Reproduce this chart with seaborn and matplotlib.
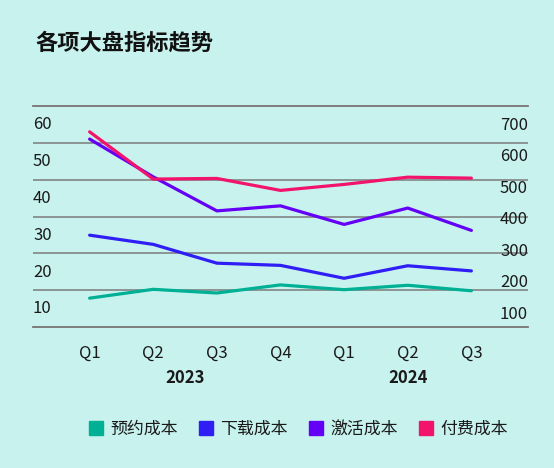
import numpy as np
import pandas as pd
import matplotlib
matplotlib.use("Agg")
import matplotlib.pyplot as plt
from matplotlib.lines import Line2D
import seaborn as sns

sns.set_theme(style="white")
plt.rcParams['font.family'] = ['Noto Sans CJK SC', 'DejaVu Sans']

# ---- data ----
title = "各项大盘指标趋势"
quarters = ["Q1", "Q2", "Q3", "Q4", "Q1", "Q2", "Q3"]
years = ["2023", "2023", "2023", "2023", "2024", "2024", "2024"]
series_names = ["预约成本", "下载成本", "激活成本", "付费成本"]
yuyue = [12.4, 14.8, 13.8, 16.0, 14.7, 15.9, 14.4]      # left axis
xiazai = [29.5, 27.0, 21.9, 21.3, 17.8, 21.2, 19.8]     # left axis
jihuo = [650, 530, 422, 438, 379, 431, 360]             # right axis
fufei = [673, 523, 525, 487, 506, 529, 526]             # right axis
left_ticks = [10, 20, 30, 40, 50, 60]
right_ticks = [100, 200, 300, 400, 500, 600, 700]
colors = ["#00b095", "#2f1ff5", "#6400f5", "#f2136c"]

bg = "#c8f2ee"
grid_c = "#7a7a7a"
txt_c = "#1a1a1a"

pos = np.arange(len(quarters))
df = pd.DataFrame({"pos": pos, "q": quarters, "year": years,
                   series_names[0]: yuyue, series_names[1]: xiazai,
                   series_names[2]: jihuo, series_names[3]: fufei})

fig = plt.figure(figsize=(5.54, 4.68), dpi=100, facecolor=bg)
ax = fig.add_axes([33/554, 1-327/468, 495/554, 221/468])
ax.set_facecolor(bg)
ax2 = ax.twinx()
ax2.set_facecolor("none")

lw = 2.3
sns.lineplot(data=df, x="pos", y=series_names[0], ax=ax, color=colors[0], linewidth=lw, zorder=3)
sns.lineplot(data=df, x="pos", y=series_names[1], ax=ax, color=colors[1], linewidth=lw, zorder=3)
sns.lineplot(data=df, x="pos", y=series_names[2], ax=ax2, color=colors[2], linewidth=lw, zorder=3)
sns.lineplot(data=df, x="pos", y=series_names[3], ax=ax2, color=colors[3], linewidth=lw, zorder=3)

# x axis
ax.set_xlim(-0.89, len(quarters) - 1 + 0.89)
ax.set_xticks(pos)
ax.set_xticklabels(quarters, fontsize=12, color=txt_c)
ax.tick_params(axis="x", length=0, pad=13)
ax.set_xlabel("")

# year group labels
trans = matplotlib.transforms.blended_transform_factory(ax.transData, ax.transAxes)
for yr in dict.fromkeys(years):
    xs = df.loc[df["year"] == yr, "pos"].mean()
    ax.text(xs, -0.231, yr, transform=trans, ha="center", va="center",
            fontsize=12, fontweight="bold", color=txt_c)

# left axis: labels sit between grid lines as in the reference
ax.set_ylim(4.57, 64.57)
ax.set_yticks(left_ticks)
ax.set_yticklabels([str(t) for t in left_ticks], fontsize=12, color=txt_c)
ax.tick_params(axis="y", length=0, pad=0)
for lbl in ax.get_yticklabels():
    lbl.set_horizontalalignment("left")
ax.set_yticks([14.57, 24.57, 34.57, 44.57, 54.57], minor=True)
ax.tick_params(axis="y", which="minor", length=0)
ax.yaxis.grid(True, which="minor", color=grid_c, linewidth=1.1)
ax.yaxis.grid(False, which="major")
ax.xaxis.grid(False)
ax.set_ylabel("")

# right axis
ax2.set_ylim(53.3, 755.0)
ax2.set_yticks(right_ticks)
ax2.set_yticklabels([str(t) for t in right_ticks], fontsize=12, color=txt_c)
ax2.tick_params(axis="y", length=0, pad=0)
for lbl in ax2.get_yticklabels():
    lbl.set_horizontalalignment("right")
ax2.grid(False)
ax2.set_ylabel("")

for a in (ax, ax2):
    for s in ("left", "right"):
        a.spines[s].set_visible(False)
    for s in ("top", "bottom"):
        a.spines[s].set_color(grid_c)
        a.spines[s].set_linewidth(1.1)

# title
fig.text(35/554, 1-43/468, title, fontsize=16, fontweight="bold", color="#111111",
         ha="left", va="center")

# legend
handles = [Line2D([0], [0], marker="s", linestyle="none", markersize=10,
                  markerfacecolor=c, markeredgecolor=c) for c in colors]
fig.legend(handles, series_names, loc="center", bbox_to_anchor=(298.5/554, 1-429/468),
           ncol=4, frameon=False, fontsize=12.2, handlelength=0.84,
           handletextpad=0.42, columnspacing=1.26, labelcolor=txt_c,
           borderpad=0, borderaxespad=0)

fig.savefig("out.png", dpi=100, facecolor=bg)
